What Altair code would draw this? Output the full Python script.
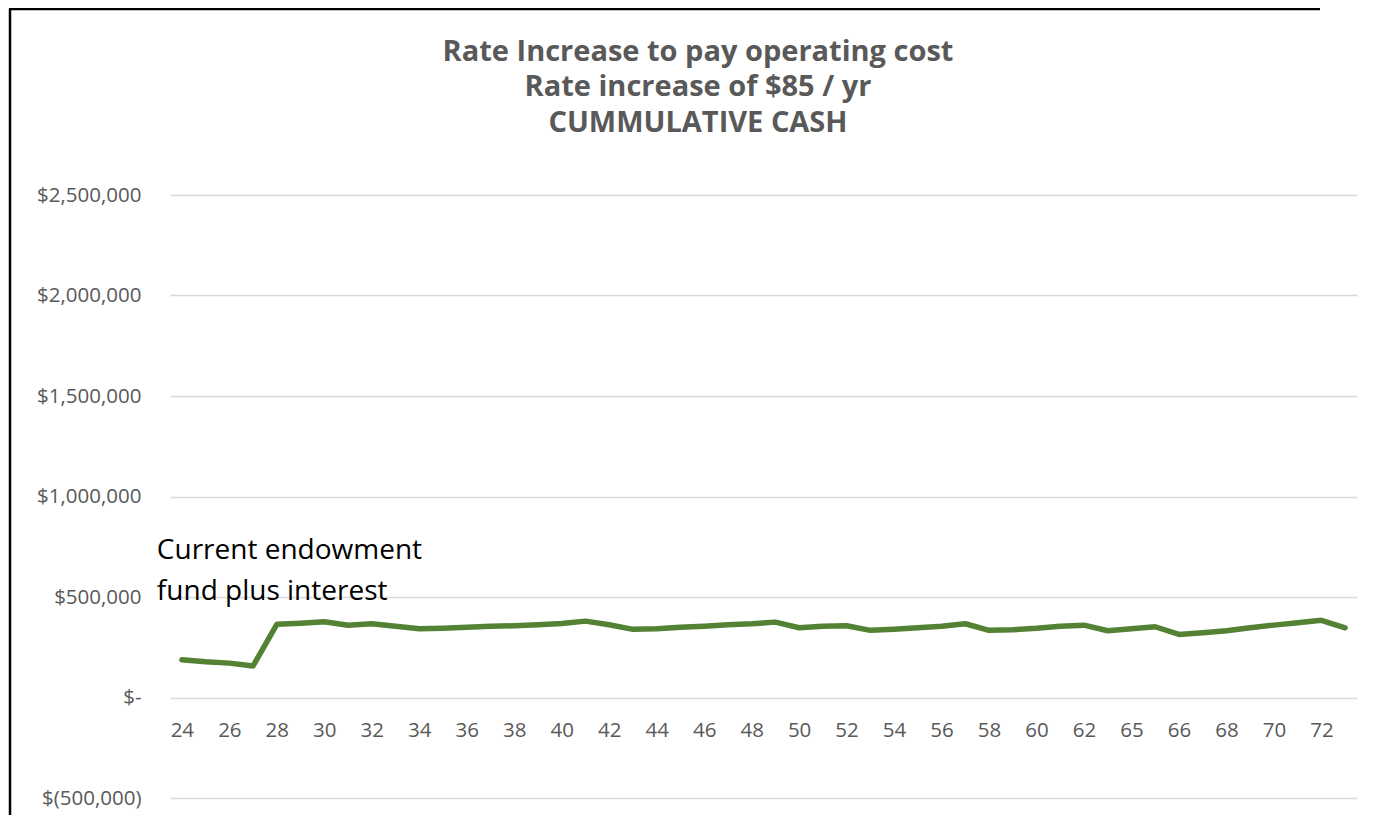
import altair as alt
import pandas as pd

# Category labels (one per point); source sheet shows "65" where 64 would be
year_labels = [str(y) for y in range(24, 63)] + ["63", "65", "65", "66", "67", "68", "69", "70", "71", "72", "73"]

cash = [188000, 178000, 171000, 157000, 364000, 370000, 377000, 359000, 367000, 355000,
        342000, 345000, 349000, 354000, 357000, 362000, 368000, 380000, 362000, 339000,
        342000, 350000, 355000, 362000, 367000, 375000, 347000, 354000, 357000, 334000,
        340000, 347000, 354000, 367000, 334000, 337000, 344000, 354000, 360000, 332000,
        342000, 352000, 314000, 322000, 332000, 347000, 360000, 372000, 384000, 347000]

note_lines = ["Current endowment", "fund plus interest"]
note_values = [727000, 523000]

title_lines = ["Rate Increase to pay operating cost", "Rate increase of $85 / yr", "CUMMULATIVE CASH"]
y_ticks = [-500000, 0, 500000, 1000000, 1500000, 2000000, 2500000]

df = pd.DataFrame({"idx": list(range(len(cash))), "cash": cash})
notes = pd.DataFrame({"idx": [0, 0], "val": note_values, "text": note_lines})
one = pd.DataFrame({"k": [0]})

W, H = 1187, 603
FONT = "Open Sans"
GRAY = "#595959"

label_arr = "[" + ",".join("'" + s + "'" for s in year_labels) + "]"

x_enc = alt.X(
    "idx:O",
    scale=alt.Scale(type="point", padding=0.5),
    axis=alt.Axis(
        title=None,
        values=list(range(0, len(cash), 2)),
        labelExpr=label_arr + "[datum.value]",
        labelAngle=0,
        labelFont=FONT,
        labelFontSize=20.5,
        labelColor=GRAY,
        labelPadding=23,
        ticks=False,
        domain=False,
        grid=False,
        offset=-101,
    ),
)

y_enc = alt.Y(
    "cash:Q",
    scale=alt.Scale(domain=[-500000, 2500000], nice=False),
    axis=alt.Axis(
        title=None,
        values=y_ticks,
        labelExpr="datum.value == 0 ? '$-' : (datum.value < 0 ? '$(' + format(-datum.value, ',') + ')' : '$' + format(datum.value, ','))",
        labelFont=FONT,
        labelFontSize=20.5,
        labelColor=GRAY,
        labelPadding=29,
        ticks=False,
        domain=False,
        grid=True,
        gridColor="#d9d9d9",
        gridWidth=1.3,
    ),
)

line = alt.Chart(df).mark_line(color="#548235", strokeWidth=5.5, strokeCap="round", strokeJoin="round").encode(
    x=x_enc, y=y_enc
)

note = alt.Chart(notes).mark_text(
    align="left", baseline="middle", dx=-25, font=FONT, fontSize=28, color="black"
).encode(
    x=alt.X("idx:O", scale=alt.Scale(type="point", padding=0.5)),
    y=alt.Y("val:Q"),
    text="text:N",
)

# chart title, three centred lines above the plot
title_y = [-134.3, -98.6, -63]
title_marks = [
    alt.Chart(one).mark_text(
        align="center", baseline="alphabetic", font=FONT, fontSize=29, fontWeight="bold", color=GRAY
    ).encode(x=alt.value(528), y=alt.value(ty), text=alt.value(t))
    for t, ty in zip(title_lines, title_y)
]

# chart-area frame (left and top edges are what the picture shows)
frame_left = alt.Chart(one).mark_rule(color="black", strokeWidth=2.5).encode(
    x=alt.value(-160), y=alt.value(-186), y2=alt.value(620)
)
frame_top = alt.Chart(one).mark_rule(color="black", strokeWidth=2.5).encode(
    x=alt.value(-161), x2=alt.value(1150), y=alt.value(-186)
)

chart = alt.layer(line, note, *title_marks, frame_left, frame_top).properties(
    width=W,
    height=H,
    padding={"left": 162, "top": 187, "right": 8, "bottom": 19},
    autosize=alt.AutoSizeParams(type="none"),
    background="white",
).configure_view(stroke=None)

chart.save("out.html", embed_options={"renderer": "svg", "actions": False})
